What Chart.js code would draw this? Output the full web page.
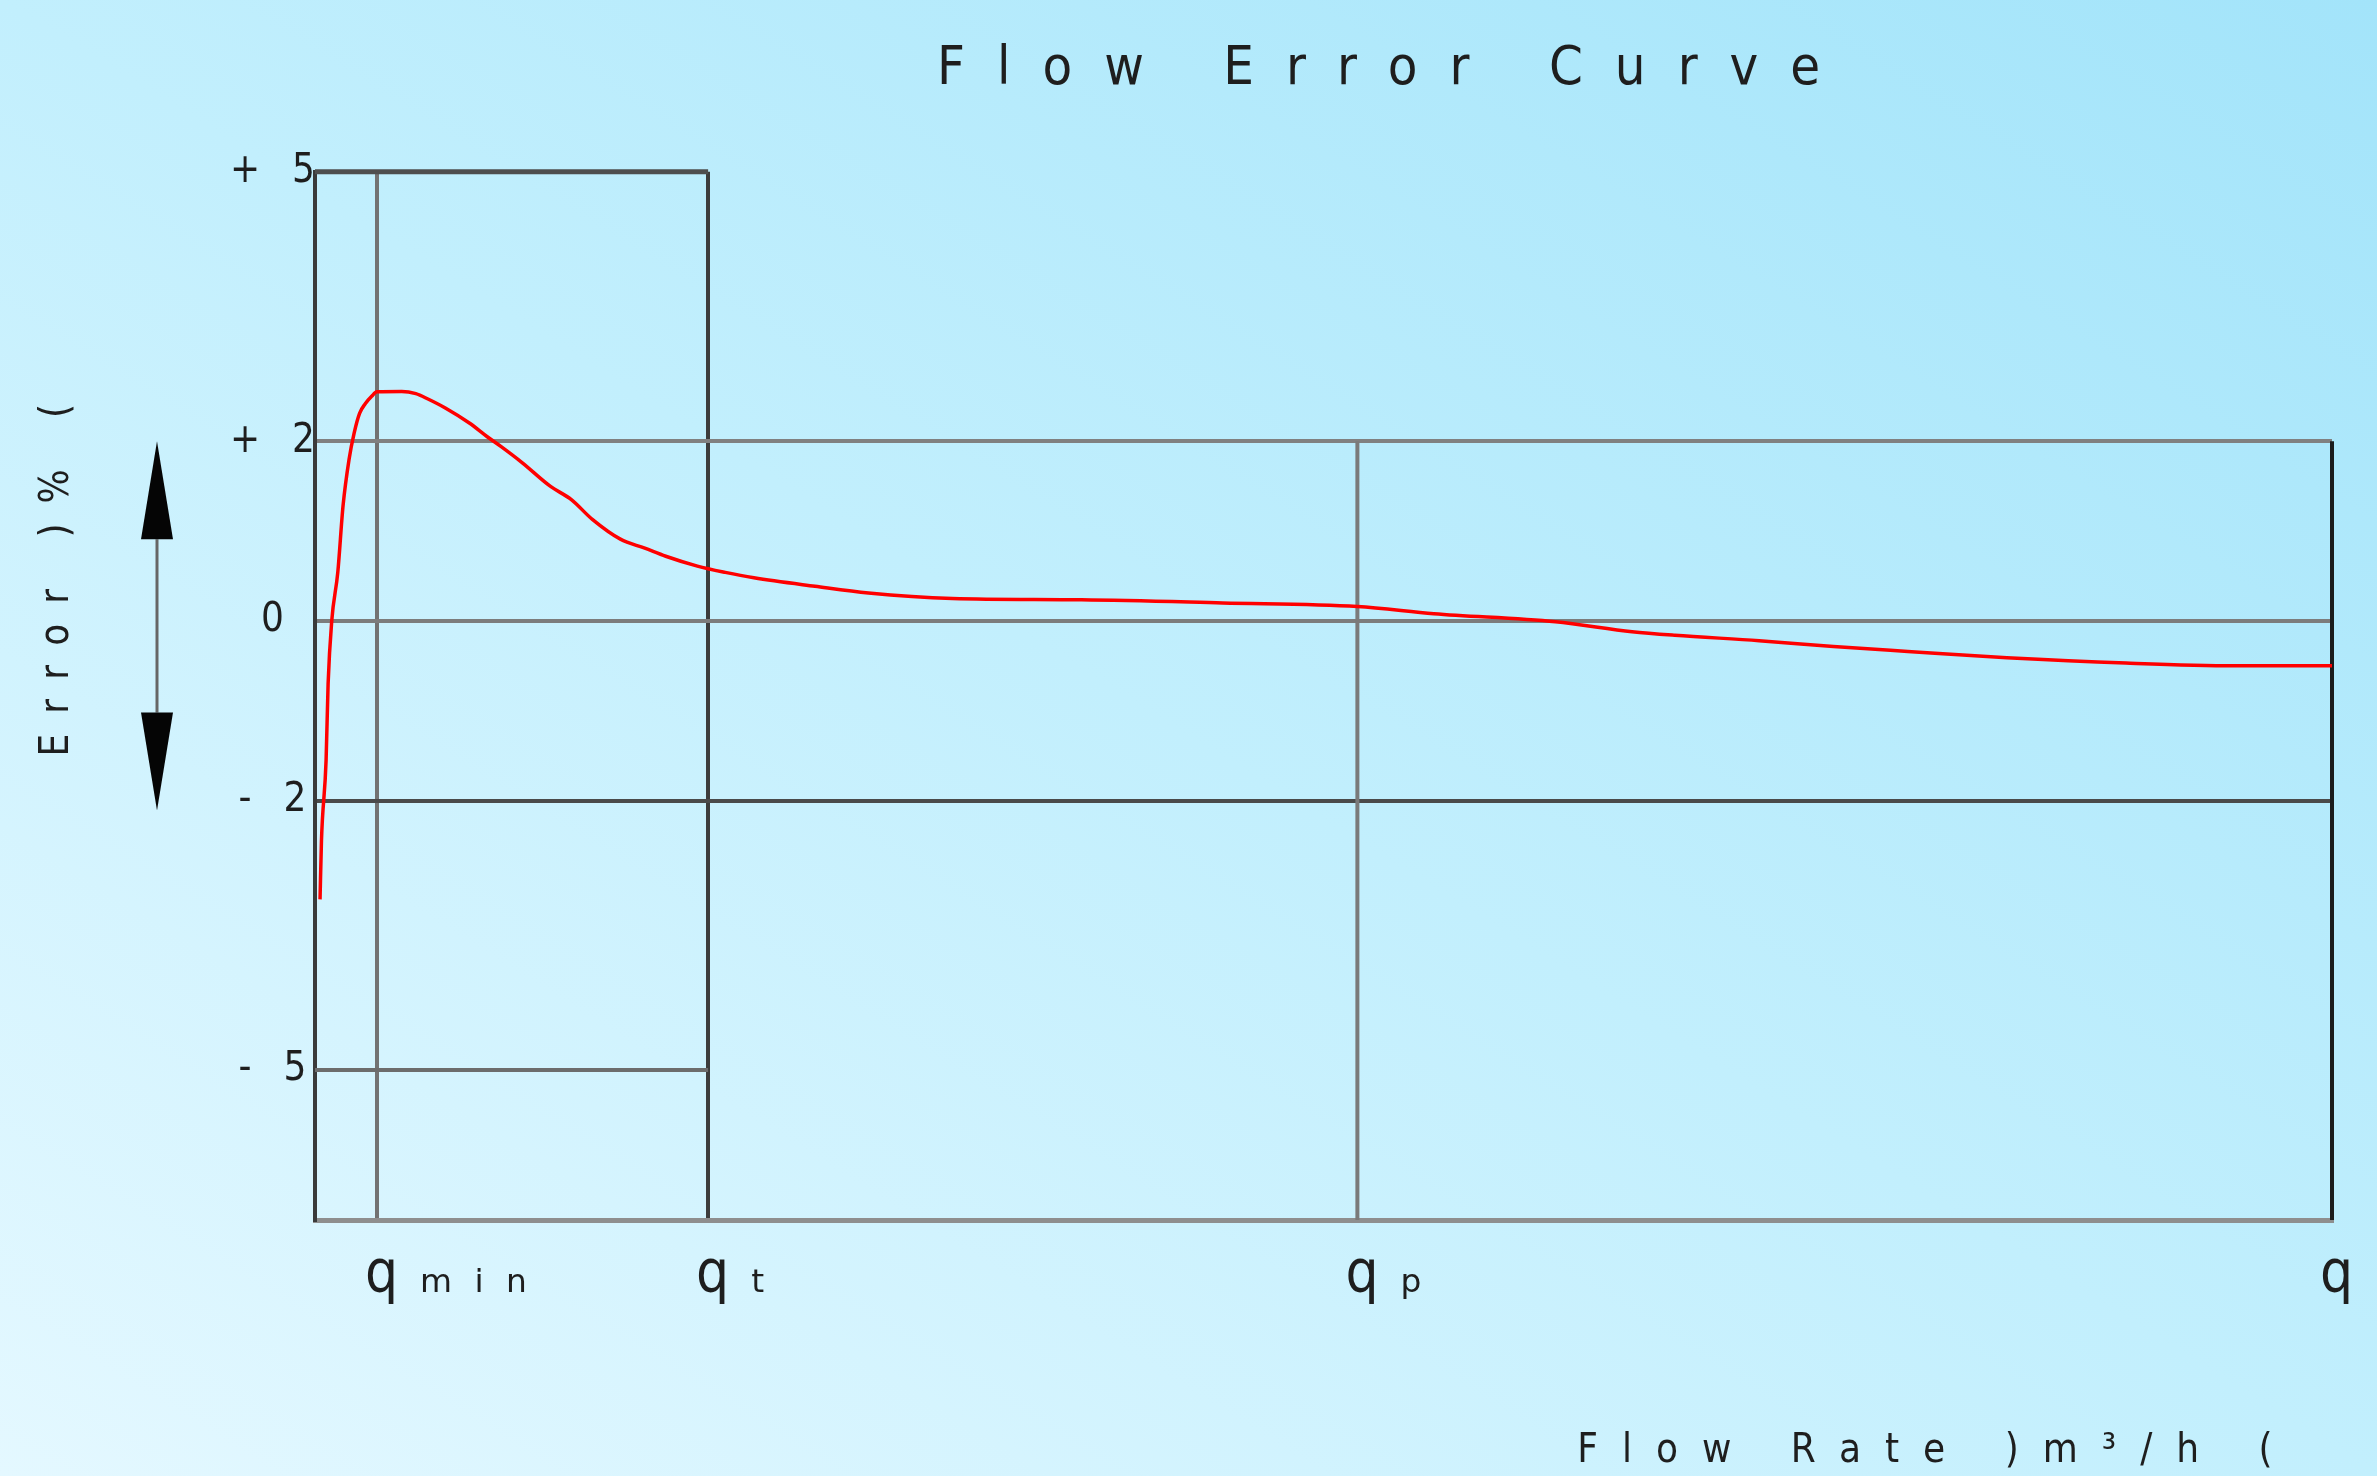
<!DOCTYPE html>
<html>
<head>
<meta charset="utf-8">
<title>Flow Error Curve</title>
<script src="https://cdn.jsdelivr.net/npm/chart.js@4.4.1/dist/chart.umd.min.js"></script>
<style>
  html, body { margin: 0; padding: 0; overflow: hidden; }
  body {
    width: 2377px; height: 1476px;
    background: linear-gradient(to top right, #e4f8ff 0%, #c2effd 50%, #a3e4fa 100%);
  }
  canvas { display: block; }
</style>
</head>
<body>
<canvas id="flowChart" width="2377" height="1476"></canvas>
<script>
// ─── DATA ───────────────────────────────
// relative flow (0 = axis origin, 100 = qs) and measured error in %
const flowX    = [0.25, 0.32, 0.55, 0.65, 0.83, 1.13, 1.39, 1.69, 1.94, 2.21,
                  2.50, 2.81, 3.07, 4.3, 5.0, 5.6, 6.46, 7.67, 8.54, 9.23, 10.28,
                  11.66, 12.71, 13.75, 15.14, 16.35, 17.39, 18.96, 20.34, 21.76, 24.79,
                  27.44, 31.6, 38, 45, 51.68, 55.47, 61.5, 65.3, 67.42, 71.6,
                  75.28, 78.97, 83.88, 89.78, 95.18, 100];
const errorPct = [-3.1, -2.45, -1.55, -0.7, 0.0, 0.54, 1.28, 1.80, 2.09, 2.31,
                  2.42, 2.50, 2.55, 2.555, 2.53, 2.47, 2.37, 2.20, 2.05, 1.94, 1.76,
                  1.50, 1.35, 1.13, 0.91, 0.81, 0.72, 0.61, 0.54, 0.48, 0.385,
                  0.31, 0.25, 0.235, 0.2, 0.16, 0.08, -0.01, -0.12, -0.16, -0.22,
                  -0.285, -0.34, -0.41, -0.47, -0.5, -0.5];

// x ticks: qmin, qt, qp, qs
const flowTicks  = [3.07, 19.49, 51.68, 100];
const flowLabels = ['qₘᵢₙ', 'qₜ', 'qₚ', 'qₛ'];

// y axis
const errorTicks = [5, 2, 0, -2, -5];
const errorRange = [-6.67, 5];

// max permissible error: low zone (0 → qt) and high zone (qt → qs)
const lowZoneLimit  = [5, -5];
const highZoneLimit = [2, -2];


// ─── STYLE ──────────────────────────────
const FONT = '"DejaVu Sans Condensed", "Liberation Sans Narrow", "DejaVu Sans", sans-serif';
const TEXT = '#1e1e1e';

const xGridColors = ['#727272', '#3c3c3c', 'transparent', 'transparent'];
const yGridColors = ['transparent', '#808080', '#7c7c7c', '#4a4a4a', 'transparent'];

// letter spacing for each text block (px)
const spacing = { title: 32, xTitle: 24, yTitle: 20, xTicks: 22, yTicks: 32 };


// ─── PLUGINS ────────────────────────────
function withSpacing(target, method, px) {
  const draw = target[method];
  target[method] = function () {
    const ctx = this.ctx;
    ctx.save();
    ctx.letterSpacing = px + 'px';
    draw.apply(this, arguments);
    ctx.restore();
  };
}

const spacedText = {
  id: 'spacedText',
  beforeDraw(chart) {
    if (chart.$spaced) return;
    chart.$spaced = true;
    withSpacing(chart.titleBlock, 'draw', spacing.title);
    withSpacing(chart.scales.x, 'drawTitle', spacing.xTitle);
    withSpacing(chart.scales.x, 'drawLabels', spacing.xTicks);
    withSpacing(chart.scales.y, 'drawTitle', spacing.yTitle);
    withSpacing(chart.scales.y, 'drawLabels', spacing.yTicks);
  }
};

// double arrow next to the y title, spanning the ±2 % band
const errorArrow = {
  id: 'errorArrow',
  afterDraw(chart) {
    const { ctx, chartArea, scales: { y } } = chart;
    const x = chartArea.left - 158;
    const top = y.getPixelForValue(highZoneLimit[0]);
    const bottom = y.getPixelForValue(highZoneLimit[1]) + 10;
    const head = 98, half = 16;

    ctx.save();
    ctx.strokeStyle = '#666';
    ctx.lineWidth = 3;
    ctx.beginPath();
    ctx.moveTo(x, top + head);
    ctx.lineTo(x, bottom - head);
    ctx.stroke();

    ctx.fillStyle = '#050505';
    ctx.beginPath();
    ctx.moveTo(x, top);
    ctx.lineTo(x + half, top + head);
    ctx.lineTo(x - half, top + head);
    ctx.closePath();
    ctx.fill();

    ctx.beginPath();
    ctx.moveTo(x, bottom);
    ctx.lineTo(x + half, bottom - head);
    ctx.lineTo(x - half, bottom - head);
    ctx.closePath();
    ctx.fill();
    ctx.restore();
  }
};


// ─── DATASETS ───────────────────────────
function limitLine(points, color, width) {
  return {
    data: points,
    borderColor: color,
    borderWidth: width,
    pointRadius: 0,
    fill: false,
    clip: 10
  };
}

const qt = flowTicks[1], qp = flowTicks[2], qs = flowTicks[3];

const datasets = [
  {
    label: 'Error',
    data: flowX.map((x, i) => ({ x, y: errorPct[i] })),
    borderColor: '#ff0000',
    borderWidth: 3.5,
    pointRadius: 0,
    cubicInterpolationMode: 'monotone',
    fill: false
  },
  limitLine([{ x: 0, y: lowZoneLimit[0] }, { x: qt, y: lowZoneLimit[0] }], '#4e4e4e', 5),
  limitLine([{ x: 0, y: lowZoneLimit[1] }, { x: qt, y: lowZoneLimit[1] }], '#6c6c6c', 4),
  limitLine([{ x: qp, y: errorRange[0] }, { x: qp, y: highZoneLimit[0] }], '#7a7a7a', 4),
  limitLine([{ x: qs, y: errorRange[0] }, { x: qs, y: highZoneLimit[0] }], '#1c1c1c', 4)
];


// ─── CHART ──────────────────────────────
new Chart(document.getElementById('flowChart'), {
  type: 'line',
  data: { datasets },
  options: {
    responsive: false,
    animation: false,
    devicePixelRatio: 1,
    layout: { padding: { top: 0, right: 45, bottom: 0, left: 0 } },
    plugins: {
      legend: { display: false },
      tooltip: { enabled: false },
      title: {
        display: true,
        text: '   Flow Error Curve',
        fullSize: false,
        color: TEXT,
        font: { family: FONT, size: 54, weight: 'normal', lineHeight: 1.2 },
        padding: { top: 38, bottom: 69 }
      }
    },
    scales: {
      x: {
        type: 'linear',
        min: 0,
        max: 100,
        afterBuildTicks: s => { s.ticks = flowTicks.map(v => ({ value: v })); },
        afterFit: s => { s.height = 256; s.paddingLeft = 0; s.paddingRight = 0; },
        grid: { color: c => xGridColors[c.index], lineWidth: 4, drawTicks: false },
        border: { color: '#8e8e8e', width: 5 },
        ticks: {
          callback: (v, i) => flowLabels[i],
          align: 'start',
          labelOffset: -12,
          padding: 22,
          autoSkip: false,
          maxRotation: 0,
          minRotation: 0,
          color: TEXT,
          font: { family: FONT, size: 58 }
        },
        title: {
          display: true,
          text: 'Flow Rate )m³/h ( ',
          align: 'end',
          padding: { top: 0, bottom: 0 },
          color: TEXT,
          font: { family: FONT, size: 40, lineHeight: 1.2 }
        }
      },
      y: {
        min: errorRange[0],
        max: errorRange[1],
        afterBuildTicks: s => { s.ticks = errorTicks.map(v => ({ value: v })); },
        afterFit: s => { s.width = 315; },
        grid: { color: c => yGridColors[c.index], lineWidth: 4, drawTicks: false },
        border: { color: '#3a3a3a', width: 4 },
        ticks: {
          callback: v => (v > 0 ? '+' : v < 0 ? '-' : '') + Math.abs(v),
          crossAlign: 'center',
          padding: 0,
          color: TEXT,
          font: { family: FONT, size: 40 }
        },
        title: {
          display: true,
          text: '        Error )% (',
          padding: { top: 38, bottom: 0 },
          color: TEXT,
          font: { family: FONT, size: 40, lineHeight: 1 }
        }
      }
    }
  },
  plugins: [spacedText, errorArrow]
});
</script>
</body>
</html>
